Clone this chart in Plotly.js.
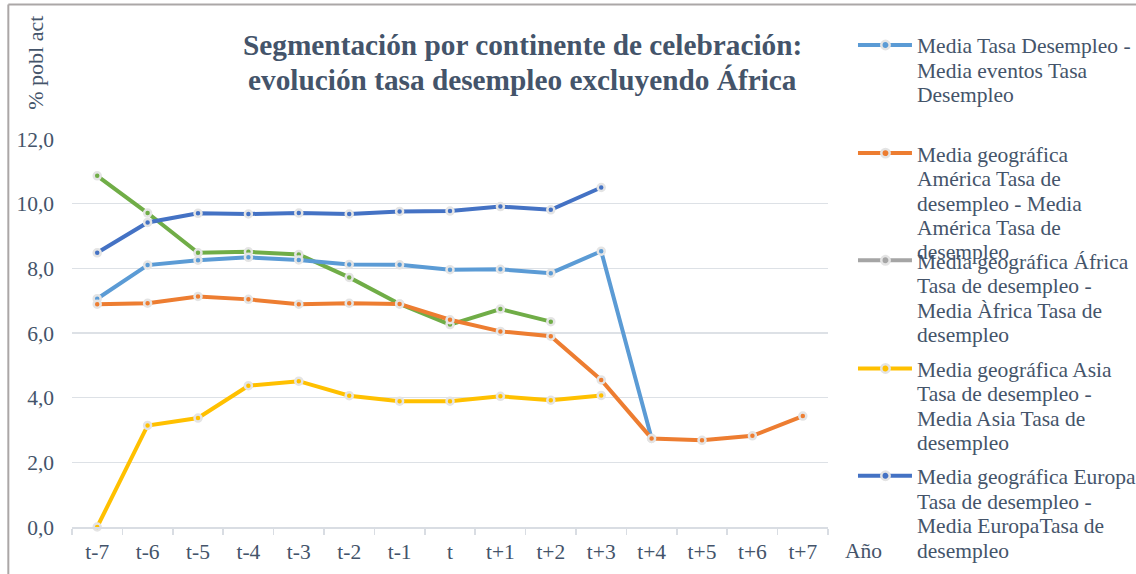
<!DOCTYPE html>
<html>
<head>
<meta charset="utf-8">
<script src="https://cdn.plot.ly/plotly-3.0.1.min.js"></script>
<style>html,body{margin:0;padding:0;background:#fff;}#chart{width:1136px;height:574px;}</style>
</head>
<body>
<div id="chart"></div>
<script>
const categories = ['t-7','t-6','t-5','t-4','t-3','t-2','t-1','t','t+1','t+2','t+3','t+4','t+5','t+6','t+7'];
const mediaTotal = [7.06, 8.10, 8.25, 8.34, 8.26, 8.12, 8.11, 7.96, 7.97, 7.85, 8.53, 2.74, null, null, null];
const america = [6.89, 6.92, 7.13, 7.04, 6.89, 6.92, 6.90, 6.41, 6.05, 5.90, 4.55, 2.74, 2.68, 2.82, 3.43];
const africa = [null, null, null, null, null, null, null, null, null, null, null, null, null, null, null];
const asia = [0.0, 3.14, 3.37, 4.37, 4.51, 4.06, 3.89, 3.89, 4.04, 3.92, 4.07, null, null, null, null];
const europa = [8.48, 9.42, 9.70, 9.68, 9.71, 9.68, 9.76, 9.77, 9.91, 9.81, 10.50, null, null, null, null];
const oceania = [10.86, 9.71, 8.48, 8.51, 8.43, 7.72, 6.90, 6.26, 6.74, 6.35, null, null, null, null, null];

const legendLines = [
  ['Media Tasa Desempleo -', 'Media eventos Tasa', 'Desempleo'],
  ['Media geográfica', 'América Tasa de', 'desempleo - Media', 'América Tasa de', 'desempleo'],
  ['Media geográfica África', 'Tasa de desempleo -', 'Media Àfrica Tasa de', 'desempleo'],
  ['Media geográfica Asia', 'Tasa de desempleo -', 'Media Asia Tasa de', 'desempleo'],
  ['Media geográfica Europa', 'Tasa de desempleo -', 'Media EuropaTasa de', 'desempleo']
];
const legendColors = ['#5B9BD5', '#ED7D31', '#A5A5A5', '#FFC000', '#4472C4'];
const titleLines = ['Segmentación por continente de celebración:', 'evolución tasa desempleo excluyendo África'];

const textColor = '#44546A';
const font = 'Liberation Serif, Times New Roman, serif';
const markerBorder = '#E4E4E4';

function tr(y, color, name) {
  return {
    x: categories, y: y, type: 'scatter', mode: 'lines+markers', name: name,
    showlegend: false, connectgaps: false, cliponaxis: false,
    line: {color: color, width: 4},
    marker: {color: color, size: 7, line: {color: markerBorder, width: 2.5}},
    hoverinfo: 'skip'
  };
}

const data = [
  tr(oceania, '#70AD47', 'Oceanía'),
  tr(mediaTotal, '#5B9BD5', 'Media'),
  tr(america, '#ED7D31', 'América'),
  tr(africa, '#A5A5A5', 'África'),
  tr(asia, '#FFC000', 'Asia'),
  tr(europa, '#4472C4', 'Europa')
];

const L = 71.7, R = 828, T = 138.6, B = 527;
const W = R - L, H = B - T;
const px = x => (x - L) / W;
const py = y => (B - y) / H;

const annotations = [];
const shapes = [];

// title
const titleY = [45, 80];
titleLines.forEach((t, i) => annotations.push({
  text: t, xref: 'paper', yref: 'paper', x: px(522), y: py(titleY[i]), showarrow: false,
  xanchor: 'center', yanchor: 'middle',
  font: {family: font, size: 29.3, color: textColor, weight: 'bold'}
}));

// y axis title and x axis title
annotations.push({text: '% pobl act', xref: 'paper', yref: 'paper', x: px(35), y: py(62), textangle: -90,
  showarrow: false, xanchor: 'center', yanchor: 'middle', font: {family: font, size: 22, color: textColor}});
annotations.push({text: 'Año', xref: 'paper', yref: 'paper', x: px(843), y: py(551), showarrow: false,
  xanchor: 'left', yanchor: 'middle', font: {family: font, size: 21.5, color: textColor}});

// manual legend (as in the reference, entries are placed at fixed positions)
const symY = [44.5, 152.7, 260, 368.3, 475.7];
const lineStep = 24.5;
legendLines.forEach((lines, k) => {
  const c = legendColors[k];
  shapes.push({type: 'line', xref: 'paper', yref: 'paper', x0: px(858), x1: px(912), y0: py(symY[k]), y1: py(symY[k]),
    line: {color: c, width: 4}});
  const r = 4.2;
  shapes.push({type: 'circle', xref: 'paper', yref: 'paper', x0: px(885.5 - r), x1: px(885.5 + r),
    y0: py(symY[k] + r), y1: py(symY[k] - r), fillcolor: c, line: {color: markerBorder, width: 2.5}});
  lines.forEach((t, i) => annotations.push({
    text: t, xref: 'paper', yref: 'paper', x: px(915), y: py(symY[k] + 1.5 + i * lineStep), showarrow: false,
    xanchor: 'left', yanchor: 'middle', font: {family: font, size: 21.5, color: textColor}
  }));
});

// chart border
shapes.push({type: 'line', xref: 'paper', yref: 'paper', x0: px(8), x1: px(1140), y0: py(4), y1: py(4), line: {color: '#ABA7A7', width: 2}});
shapes.push({type: 'line', xref: 'paper', yref: 'paper', x0: px(8), x1: px(8), y0: py(4), y1: py(580), line: {color: '#ABA7A7', width: 2}});

const layout = {
  width: 1136, height: 574,
  margin: {l: L, r: 1136 - R, t: T, b: 574 - B},
  paper_bgcolor: '#ffffff', plot_bgcolor: '#ffffff',
  separators: ',.',
  font: {family: font, color: textColor, size: 21.5},
  showlegend: false,
  xaxis: {
    type: 'category', range: [-0.5, 14.5],
    showgrid: false, showline: true, linecolor: '#D9DDE3', linewidth: 1.5,
    ticks: 'outside', tickson: 'boundaries', ticklen: 6, tickcolor: '#D9DDE3', tickwidth: 1.5,
    ticklabelstandoff: 5,
    tickfont: {family: font, size: 21.5, color: textColor},
    fixedrange: true
  },
  yaxis: {
    range: [0, 12], dtick: 2, tickformat: '.1f',
    showgrid: true, gridcolor: '#DDE1E6', gridwidth: 1.5,
    zeroline: false, showline: false,
    ticks: '', ticklabelstandoff: 17,
    tickfont: {family: font, size: 21.5, color: textColor},
    fixedrange: true
  },
  annotations: annotations,
  shapes: shapes
};

Plotly.newPlot('chart', data, layout, {displayModeBar: false, staticPlot: true});
</script>
</body>
</html>
